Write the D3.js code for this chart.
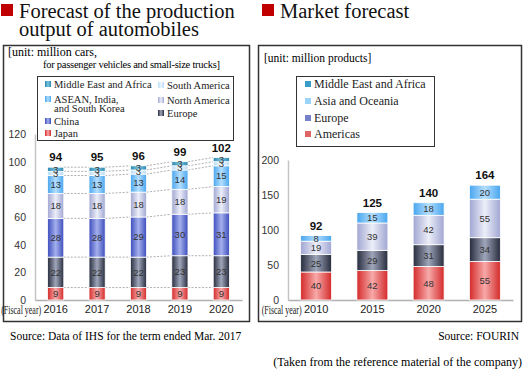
<!DOCTYPE html>
<html>
<head>
<meta charset="utf-8">
<script src="https://cdn.jsdelivr.net/npm/d3@7"></script>
<style>
body { margin: 0; background: #fff; }
svg text { font-family: "Liberation Serif", "Times New Roman", serif; }
.num { font-family: "Liberation Sans", Arial, sans-serif; }
</style>
</head>
<body>
<script>
// left chart: automobile production (million cars)
var autoYears = ["2016", "2017", "2018", "2019", "2020"];
var autoTotals = [94, 95, 96, 99, 102];
var autoJapan = [9, 9, 9, 9, 9];
var autoEurope = [22, 22, 22, 23, 23];
var autoChina = [28, 28, 29, 30, 31];
var autoNorthAmerica = [18, 18, 18, 18, 19];
var autoAsean = [13, 13, 13, 14, 15];
var autoSouthAmerica = [3, 3, 3, 3, 3];
var autoMiddleEast = [3, 3, 3, 3, 3];
var autoTicks = [0, 20, 40, 60, 80, 100, 120];

// right chart: market forecast (million products)
var mktYears = ["2010", "2015", "2020", "2025"];
var mktTotals = [92, 125, 140, 164];
var mktAmericas = [40, 42, 48, 55];
var mktEurope = [25, 29, 31, 34];
var mktAsia = [19, 39, 42, 55];
var mktMiddleEast = [8, 15, 18, 20];
var mktTicks = [0, 50, 100, 150, 200];

var w = 524, h = 371;

// gradient colours: [edge, centre]
var shades = {
  red: ["#d42a2a", "#f7a9a9"],
  navy: ["#262c3c", "#a0a6ba"],
  blue: ["#3c4cbc", "#a4b0ec"],
  lav: ["#a0a6d2", "#eceef8"],
  sky: ["#48a6ee", "#b4deff"],
  pale: ["#b8dcf6", "#eef7ff"],
  teal: ["#2a86b0", "#7cc6de"]
};

var svg = d3.select("body").append("svg")
  .attr("width", w)
  .attr("height", h);

var defs = svg.append("defs");
Object.keys(shades).forEach(function(k) {
  var g = defs.append("linearGradient")
    .attr("id", "g-" + k)
    .attr("x1", "0%").attr("x2", "100%").attr("y1", "0%").attr("y2", "0%");
  g.append("stop").attr("offset", "0%").attr("stop-color", shades[k][0]);
  g.append("stop").attr("offset", "50%").attr("stop-color", shades[k][1]);
  g.append("stop").attr("offset", "100%").attr("stop-color", shades[k][0]);
});

// titles
function title(x, lines) {
  svg.append("rect")
    .attr("x", x).attr("y", 4)
    .attr("width", 12).attr("height", 12)
    .attr("fill", "#c00000");
  lines.forEach(function(t, i) {
    svg.append("text")
      .attr("x", x + 18).attr("y", 18 + i * 18)
      .attr("font-size", 20.5)
      .attr("fill", "#111")
      .text(t);
  });
}
title(1, ["Forecast of the production", "output of automobiles"]);
title(262, ["Market forecast"]);

// frames
svg.append("rect").attr("x", 3.5).attr("y", 45.5).attr("width", 246).attr("height", 276)
  .attr("fill", "none").attr("stroke", "#333").attr("stroke-width", 1.5);
svg.append("rect").attr("x", 258.5).attr("y", 45.5).attr("width", 263).attr("height", 276)
  .attr("fill", "none").attr("stroke", "#333").attr("stroke-width", 1.5);

svg.append("text").attr("x", 8).attr("y", 56).attr("font-size", 12)
  .text("[unit: million cars,");
svg.append("text").attr("x", 43).attr("y", 68).attr("font-size", 10.5)
  .attr("letter-spacing", -0.25)
  .text("for passenger vehicles and small-size trucks]");
svg.append("text").attr("x", 264).attr("y", 62).attr("font-size", 11.5)
  .text("[unit: million products]");

// legends
function legend(box, items, size) {
  svg.append("rect")
    .attr("x", box[0] + 0.5).attr("y", box[1] + 0.5)
    .attr("width", box[2]).attr("height", box[3])
    .attr("fill", "#fff").attr("stroke", "#333").attr("stroke-width", 1);
  items.forEach(function(it) {
    svg.append("rect")
      .attr("x", it.x).attr("y", it.y - 3)
      .attr("width", 6).attr("height", 6)
      .attr("fill", it.fill);
    it.lines.forEach(function(t, i) {
      svg.append("text")
        .attr("x", it.x + 9).attr("y", it.y + 4 + i * 9)
        .attr("font-size", size)
        .attr("fill", "#222")
        .text(t);
    });
  });
}

legend([37, 76, 196, 64], [
  { x: 45, y: 84, fill: "url(#g-teal)", lines: ["Middle East and Africa"] },
  { x: 45, y: 99, fill: "url(#g-sky)", lines: ["ASEAN, India,", "and South Korea"] },
  { x: 45, y: 121, fill: "url(#g-blue)", lines: ["China"] },
  { x: 45, y: 133, fill: "url(#g-red)", lines: ["Japan"] },
  { x: 158, y: 85, fill: "url(#g-pale)", lines: ["South America"] },
  { x: 158, y: 100, fill: "url(#g-lav)", lines: ["North America"] },
  { x: 158, y: 113, fill: "url(#g-navy)", lines: ["Europe"] }
], 10.5);

legend([296, 76, 138, 70], [
  { x: 305, y: 84, fill: "#3a9cc8", lines: ["Middle East and Africa"] },
  { x: 305, y: 101, fill: "#9ad4f8", lines: ["Asia and Oceania"] },
  { x: 305, y: 118, fill: "#7480c8", lines: ["Europe"] },
  { x: 305, y: 134, fill: "#e06464", lines: ["Americas"] }
], 12);

// generic stacked bar chart
function stackedChart(opt) {
  var x = d3.scaleBand()
    .domain(opt.years)
    .range(opt.xRange)
    .paddingInner(opt.pad)
    .paddingOuter(opt.pad / 2);
  var y = d3.scaleLinear()
    .domain([0, opt.ticks[opt.ticks.length - 1]])
    .range(opt.yRange);

  var rows = opt.years.map(function(yr, i) {
    var r = { year: yr };
    opt.series.forEach(function(s) { r[s.key] = s.values[i]; });
    return r;
  });
  var stack = d3.stack().keys(opt.series.map(function(s) { return s.key; }))(rows);

  var g = svg.append("g");

  // y axis
  var ya = g.append("g")
    .attr("transform", "translate(" + opt.xRange[0] + ",0)")
    .call(d3.axisLeft(y).tickValues(opt.ticks).tickSize(0).tickPadding(9));
  ya.select(".domain").attr("stroke", "#c4c4c4").attr("stroke-width", 1.5);
  ya.selectAll("text").attr("class", "num").attr("font-size", 10.5).attr("fill", "#333");

  // x axis
  var xa = g.append("g")
    .attr("transform", "translate(0," + opt.yRange[0] + ")")
    .call(d3.axisBottom(x).tickSize(0).tickPadding(5));
  xa.select(".domain").attr("stroke", "#b0b0b0").attr("stroke-width", 1.5);
  xa.selectAll("text").attr("class", "num").attr("font-size", 11).attr("fill", "#222");

  g.append("text")
    .attr("x", x(opt.years[0]) + x.bandwidth() / 2 - 14.5)
    .attr("y", opt.yRange[0] + 13.5)
    .attr("text-anchor", "end")
    .attr("font-size", 12)
    .attr("textLength", 40)
    .attr("lengthAdjust", "spacingAndGlyphs")
    .attr("fill", "#222")
    .text("(Fiscal year)");

  // dotted connectors between bars
  if (opt.connect) {
    stack.forEach(function(layer) {
      for (var i = 0; i < layer.length - 1; i++) {
        g.append("line")
          .attr("x1", x(opt.years[i]) + x.bandwidth())
          .attr("x2", x(opt.years[i + 1]))
          .attr("y1", y(layer[i][1]))
          .attr("y2", y(layer[i + 1][1]))
          .attr("stroke", "#9a9a9a")
          .attr("stroke-width", 0.8)
          .attr("stroke-dasharray", "2,1.5");
      }
    });
  }

  stack.forEach(function(layer, li) {
    var s = opt.series[li];
    g.selectAll(null)
      .data(layer)
      .enter().append("rect")
      .attr("x", function(d) { return x(d.data.year); })
      .attr("y", function(d) { return y(d[1]); })
      .attr("width", x.bandwidth())
      .attr("height", function(d) { return y(d[0]) - y(d[1]); })
      .attr("fill", "url(#g-" + s.color + ")")
      .attr("stroke", "#fff")
      .attr("stroke-width", 0.8);
    g.selectAll(null)
      .data(layer)
      .enter().append("text")
      .attr("class", "num")
      .attr("x", function(d) { return x(d.data.year) + x.bandwidth() / 2; })
      .attr("y", function(d) { return (y(d[0]) + y(d[1])) / 2 + 3.3; })
      .attr("text-anchor", "middle")
      .attr("font-size", 9.5)
      .attr("fill", "#333")
      .text(function(d, i) { return s.values[i]; });
  });

  var top = stack[stack.length - 1];
  g.selectAll(null)
    .data(opt.totals)
    .enter().append("text")
    .attr("class", "num")
    .attr("x", function(d, i) { return x(opt.years[i]) + x.bandwidth() / 2; })
    .attr("y", function(d, i) { return y(top[i][1]) - 6; })
    .attr("text-anchor", "middle")
    .attr("font-size", 11.5)
    .attr("font-weight", "bold")
    .attr("fill", "#111")
    .text(function(d) { return d; });
}

stackedChart({
  years: autoYears,
  totals: autoTotals,
  ticks: autoTicks,
  xRange: [35, 242],
  yRange: [300, 134],
  pad: 0.61,
  connect: true,
  series: [
    { key: "japan", values: autoJapan, color: "red" },
    { key: "europe", values: autoEurope, color: "navy" },
    { key: "china", values: autoChina, color: "blue" },
    { key: "na", values: autoNorthAmerica, color: "lav" },
    { key: "asean", values: autoAsean, color: "sky" },
    { key: "sa", values: autoSouthAmerica, color: "pale" },
    { key: "mea", values: autoMiddleEast, color: "teal" }
  ]
});

stackedChart({
  years: mktYears,
  totals: mktTotals,
  ticks: mktTicks,
  xRange: [288, 513],
  yRange: [300, 160],
  pad: 0.45,
  connect: false,
  series: [
    { key: "americas", values: mktAmericas, color: "red" },
    { key: "europe", values: mktEurope, color: "navy" },
    { key: "asia", values: mktAsia, color: "lav" },
    { key: "mea", values: mktMiddleEast, color: "sky" }
  ]
});

// sources
svg.append("text").attr("x", 10).attr("y", 340).attr("font-size", 11.5)
  .text("Source: Data of IHS for the term ended Mar. 2017");
svg.append("text").attr("x", 519).attr("y", 340).attr("font-size", 11.5)
  .attr("text-anchor", "end")
  .text("Source: FOURIN");
svg.append("text").attr("x", 522).attr("y", 366).attr("font-size", 12)
  .attr("text-anchor", "end")
  .text("(Taken from the reference material of the company)");
</script>
</body>
</html>
